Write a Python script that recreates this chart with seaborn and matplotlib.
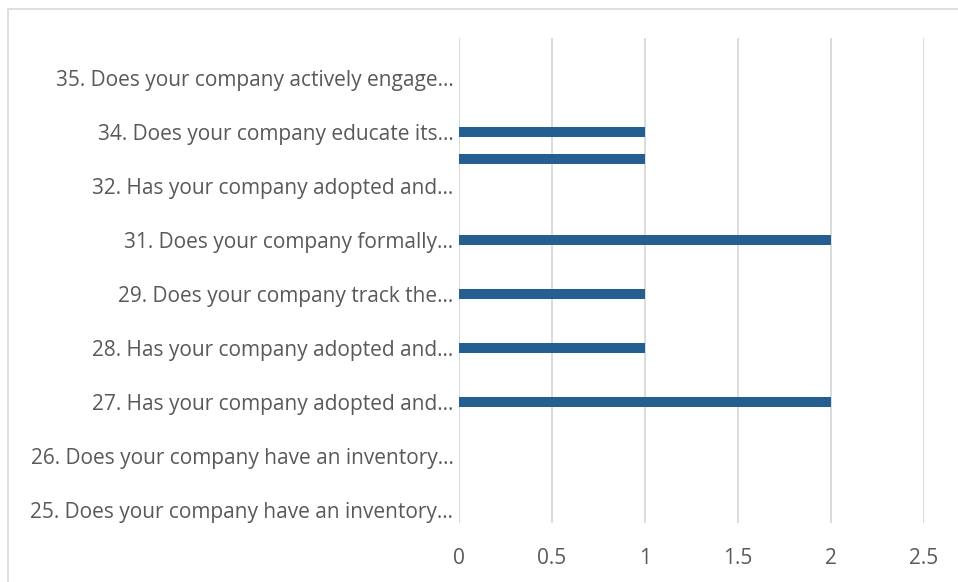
import matplotlib
matplotlib.use("Agg")
import matplotlib.pyplot as plt
import seaborn as sns
import pandas as pd
from matplotlib.patches import Rectangle

# Categories from bottom to top (every other label is hidden in the reference)
categories = [
    "25. Does your company have an inventory…",
    "25b",
    "26. Does your company have an inventory…",
    "26b",
    "27. Has your company adopted and…",
    "27b",
    "28. Has your company adopted and…",
    "28b",
    "29. Does your company track the…",
    "30",
    "31. Does your company formally…",
    "31b",
    "32. Has your company adopted and…",
    "33",
    "34. Does your company educate its…",
    "34b",
    "35. Does your company actively engage…",
    "36",
]
tick_labels = [
    "25. Does your company have an inventory…", "",
    "26. Does your company have an inventory…", "",
    "27. Has your company adopted and…", "",
    "28. Has your company adopted and…", "",
    "29. Does your company track the…", "",
    "31. Does your company formally…", "",
    "32. Has your company adopted and…", "",
    "34. Does your company educate its…", "",
    "35. Does your company actively engage…", "",
]
values = [0, 0, 0, 0, 2, 0, 1, 0, 1, 0, 2, 0, 0, 1, 1, 0, 0, 0]
x_ticks = [0, 0.5, 1, 1.5, 2, 2.5]
x_tick_labels = ["0", "0.5", "1", "1.5", "2", "2.5"]

sns.set_theme(style="white")
plt.rcParams['font.family'] = ['Open Sans', 'DejaVu Sans']

order = categories[::-1]
df = pd.DataFrame({"cat": categories, "val": values})

W, H = 958, 582
fig = plt.figure(figsize=(W / 100, H / 100), dpi=100)
left, right, top, bottom = 459, 924, 38, 523
ax = fig.add_axes([left / W, 1 - bottom / H, (right - left) / W, (bottom - top) / H])

sns.barplot(data=df, y="cat", x="val", order=order, orient="h",
            color="#255E91", width=0.36, saturation=1, ax=ax, zorder=3,
            linewidth=0, edgecolor="none")

ax.set_xlim(0, 2.5)
ax.set_ylim(len(order) - 0.5, -0.5)
ax.set_xticks(x_ticks)
ax.set_xticklabels(x_tick_labels)
ax.set_yticks(range(len(order)))
ax.set_yticklabels(tick_labels[::-1])
ax.set_xlabel("")
ax.set_ylabel("")
for s in ax.spines.values():
    s.set_visible(False)
ax.grid(axis="x", color="#d9d9d9", linewidth=1.3, zorder=0)
ax.grid(axis="y", visible=False)
ax.tick_params(axis="both", length=0, colors="#595959", labelsize=15)
ax.tick_params(axis="x", pad=18)
ax.tick_params(axis="y", pad=4)

# outer chart border
fig.patches.append(Rectangle((8 / W, -0.05), 1.0, 1 - 9 / H + 0.05,
                             transform=fig.transFigure, fill=False,
                             edgecolor="#d9d9d9", linewidth=1.2))

fig.savefig("out.png", dpi=100)
